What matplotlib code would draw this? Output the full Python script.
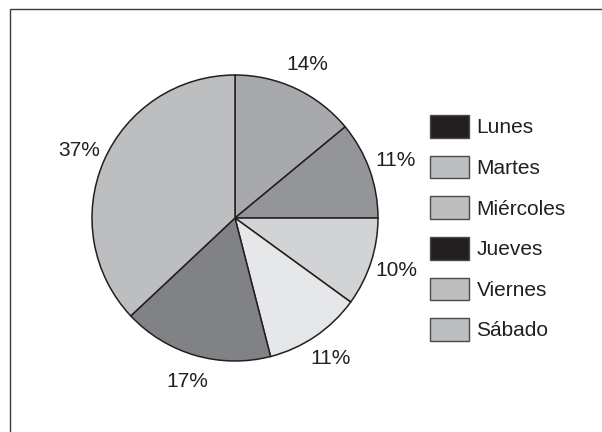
import matplotlib
matplotlib.use("Agg")
import matplotlib.pyplot as plt
from matplotlib.patches import Patch, Rectangle

plt.rcParams["font.family"] = ["Liberation Sans", "DejaVu Sans"]

# slices clockwise from 12 o'clock
days = ["Lunes", "Martes", "Miércoles", "Jueves", "Viernes", "Sábado"]
shares = [14, 11, 10, 11, 17, 37]
slice_colors = ["#a7a9ac", "#939598", "#d1d3d4", "#e6e7e8", "#808285", "#bcbec0"]
# the legend swatches in the original do not follow the slice shades
legend_colors = ["#231f20", "#bcbec0", "#bcbec0", "#231f20", "#bcbec0", "#bcbec0"]

INK = "#231f20"
W, H = 602, 432
fig = plt.figure(figsize=(W / 100, H / 100), dpi=100)

# frame, open on the right and bottom edges
fig.patches.append(Rectangle((9.5 / W, -0.1), 1.2, 1 - 8.5 / H + 0.1,
                             transform=fig.transFigure, fill=False,
                             edgecolor="#3a3a3a", linewidth=1.0))

cx, cy, r = 235, 218, 143
ax = fig.add_axes([(cx - r) / W, (H - cy - r) / H, 2 * r / W, 2 * r / H])
ax.pie(shares, colors=slice_colors, startangle=90, counterclock=False,
       autopct="%d%%", pctdistance=1.19,
       wedgeprops=dict(edgecolor=INK, linewidth=1.1),
       textprops=dict(fontsize=15, color=INK))
ax.set_xlim(-1, 1)
ax.set_ylim(-1, 1)
ax.set_aspect("auto")
ax.axis("off")

handles = [Patch(facecolor=c, edgecolor="#4a4a4a", linewidth=1.0) for c in legend_colors]
fig.legend(handles, days, loc="upper left",
           bbox_to_anchor=(430 / W, 1 - 115 / H),
           frameon=False, fontsize=15, labelcolor=INK,
           handlelength=1.85, handleheight=1.3, handletextpad=0.38,
           labelspacing=0.86, borderpad=0, borderaxespad=0)

fig.savefig("out.png", dpi=100, facecolor="white")
